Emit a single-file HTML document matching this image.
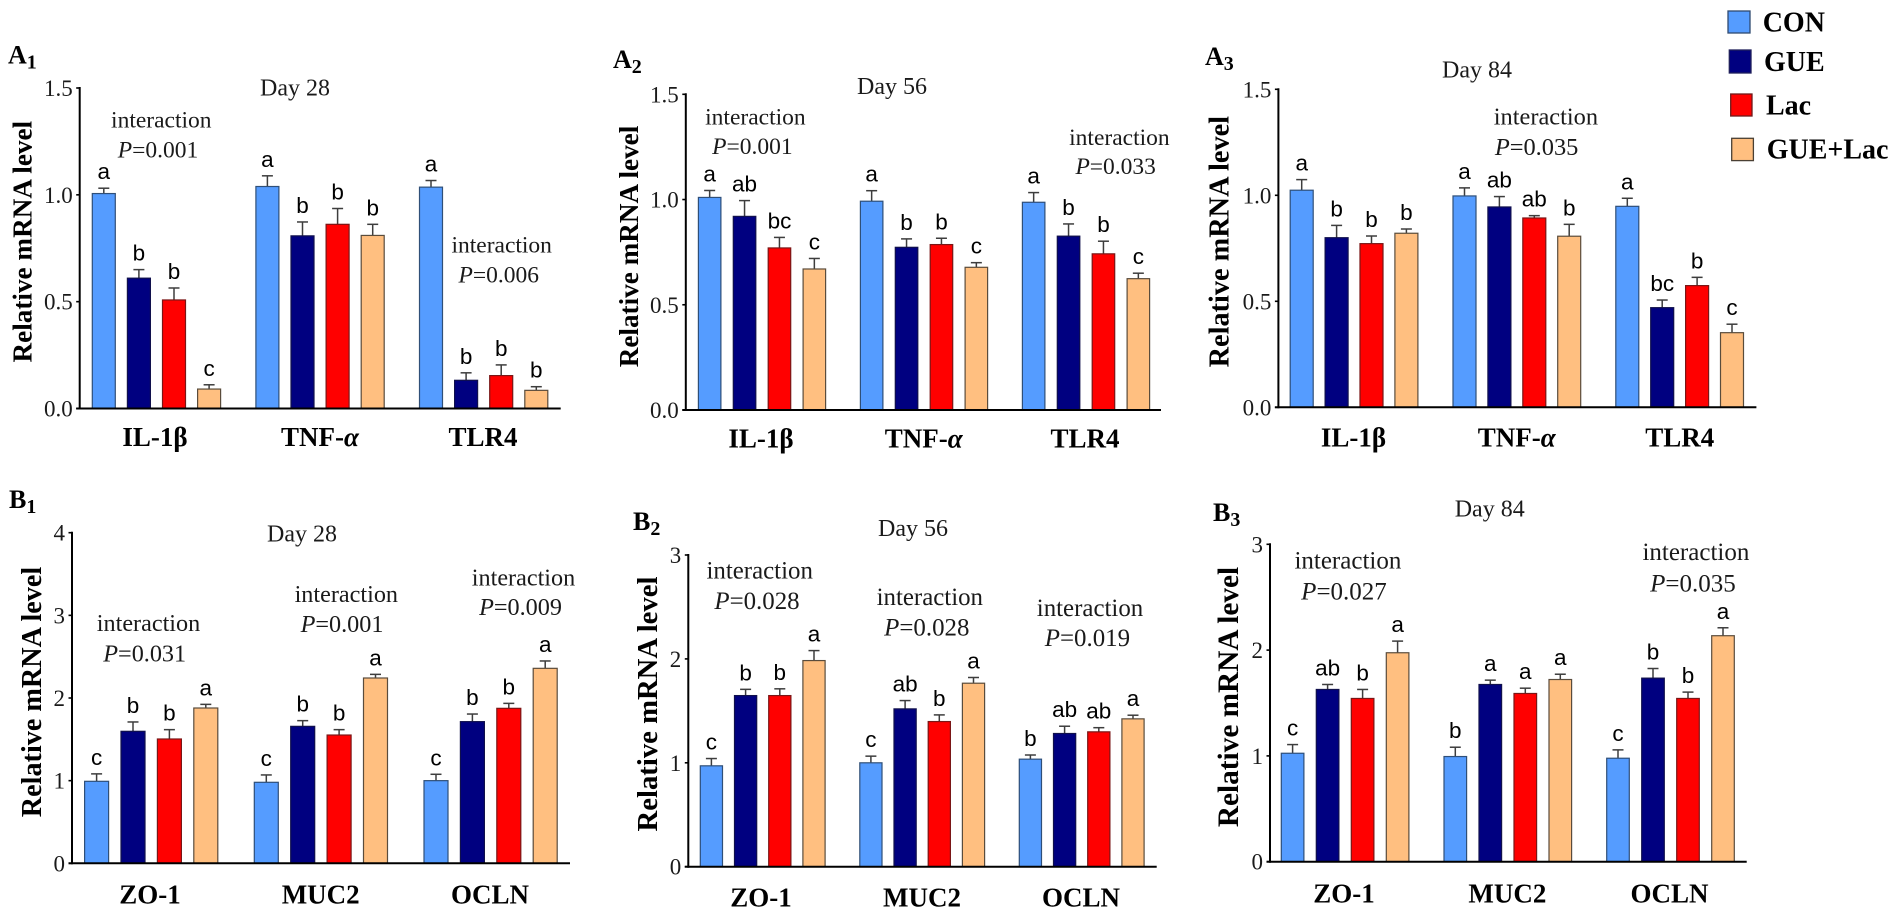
<!DOCTYPE html>
<html lang="en">
<head>
<meta charset="utf-8">
<title>Relative mRNA level by treatment and day</title>
<style>
html,body{margin:0;padding:0;background:#fff;}
svg{display:block;}
.serif{font-family:"Liberation Serif",serif;fill:#111;}
.note{font-family:"Liberation Serif",serif;fill:#1a1a1a;text-anchor:middle;}
.day{font-family:"Liberation Serif",serif;fill:#1a1a1a;text-anchor:middle;font-size:24px;}
.ytitle{font-family:"Liberation Serif",serif;font-weight:bold;fill:#000;text-anchor:middle;}
.plabel{font-family:"Liberation Serif",serif;font-weight:bold;fill:#000;font-size:26px;}
.plabel .sub{font-size:20px;}
.leg{font-family:"Liberation Serif",serif;font-weight:bold;fill:#000;font-size:28px;}
</style>
</head>
<body>
<svg id="figure" width="1901" height="914" viewBox="0 0 1901 914" xmlns="http://www.w3.org/2000/svg">
<rect width="1901" height="914" fill="#fff"/>

<g>
  <rect x="1728" y="11" width="22" height="22" fill="#559cff" stroke="#2f4a70" stroke-width="1.3"/>
  <text class="leg" x="1762.7" y="31.7">CON</text>
  <rect x="1729.3" y="50" width="21.7" height="23" fill="#000080" stroke="#20205a" stroke-width="1.3"/>
  <text class="leg" x="1764" y="71">GUE</text>
  <rect x="1730.7" y="94" width="21.3" height="22" fill="#ff0000" stroke="#6e1a1a" stroke-width="1.3"/>
  <text class="leg" x="1766" y="114.3">Lac</text>
  <rect x="1731.7" y="138.3" width="21.7" height="22.3" fill="#ffbf80" stroke="#4a4034" stroke-width="1.3"/>
  <text class="leg" x="1766.7" y="158.3">GUE+Lac</text>
</g>

<g id="panel-a1">
  <text class="plabel" x="8" y="63.3">A<tspan class="sub" dy="5">1</tspan></text>
  <text class="day" x="295" y="95.7">Day 28</text>
  <text class="ytitle" font-size="27.2" transform="translate(31.7 241.7) rotate(-90)">Relative mRNA level</text>
  <g font-size="23.5">
    <text class="note" x="161.3" y="127.7">interaction</text>
    <text class="note" x="158" y="157.3"><tspan font-style="italic">P</tspan>=0.001</text>
  </g>
  <g font-size="23.5">
    <text class="note" x="501.7" y="252.7">interaction</text>
    <text class="note" x="498.8" y="282.3"><tspan font-style="italic">P</tspan>=0.006</text>
  </g>
</g>

<g id="panel-a2">
  <text class="plabel" x="613" y="68">A<tspan class="sub" dy="5">2</tspan></text>
  <text class="day" x="892" y="94">Day 56</text>
  <text class="ytitle" font-size="27.2" transform="translate(638 246.5) rotate(-90)">Relative mRNA level</text>
  <g font-size="23.5">
    <text class="note" x="755.4" y="124.3">interaction</text>
    <text class="note" x="752.4" y="154"><tspan font-style="italic">P</tspan>=0.001</text>
  </g>
  <g font-size="23.5">
    <text class="note" x="1119.4" y="145">interaction</text>
    <text class="note" x="1115.7" y="174"><tspan font-style="italic">P</tspan>=0.033</text>
  </g>
</g>

<g id="panel-a3">
  <text class="plabel" x="1205" y="65">A<tspan class="sub" dy="5">3</tspan></text>
  <text class="day" x="1477" y="77.3">Day 84</text>
  <text class="ytitle" font-size="28.3" transform="translate(1228.5 241.7) rotate(-90)">Relative mRNA level</text>
  <g font-size="24.4">
    <text class="note" x="1545.9" y="124.3">interaction</text>
    <text class="note" x="1536.6" y="155"><tspan font-style="italic">P</tspan>=0.035</text>
  </g>
</g>

<g id="panel-b1">
  <text class="plabel" x="9" y="508">B<tspan class="sub" dy="5">1</tspan></text>
  <text class="day" x="302" y="541.5">Day 28</text>
  <text class="ytitle" font-size="28.2" transform="translate(41 692) rotate(-90)">Relative mRNA level</text>
  <g font-size="24.2">
    <text class="note" x="148.5" y="631">interaction</text>
    <text class="note" x="144.7" y="661.3"><tspan font-style="italic">P</tspan>=0.031</text>
  </g>
  <g font-size="24.2">
    <text class="note" x="346.3" y="602">interaction</text>
    <text class="note" x="342" y="632"><tspan font-style="italic">P</tspan>=0.001</text>
  </g>
  <g font-size="24.2">
    <text class="note" x="523.5" y="585.3">interaction</text>
    <text class="note" x="520.5" y="615"><tspan font-style="italic">P</tspan>=0.009</text>
  </g>
</g>

<g id="panel-b2">
  <text class="plabel" x="633" y="530">B<tspan class="sub" dy="5">2</tspan></text>
  <text class="day" x="913" y="536">Day 56</text>
  <text class="ytitle" font-size="28.7" transform="translate(657 704) rotate(-90)">Relative mRNA level</text>
  <g font-size="24.9">
    <text class="note" x="759.7" y="578.3">interaction</text>
    <text class="note" x="757" y="609"><tspan font-style="italic">P</tspan>=0.028</text>
  </g>
  <g font-size="24.9">
    <text class="note" x="929.8" y="605">interaction</text>
    <text class="note" x="926.8" y="635.3"><tspan font-style="italic">P</tspan>=0.028</text>
  </g>
  <g font-size="24.9">
    <text class="note" x="1090" y="616">interaction</text>
    <text class="note" x="1087.4" y="646"><tspan font-style="italic">P</tspan>=0.019</text>
  </g>
</g>

<g id="panel-b3">
  <text class="plabel" x="1213" y="521">B<tspan class="sub" dy="5">3</tspan></text>
  <text class="day" x="1489.7" y="516.7">Day 84</text>
  <text class="ytitle" font-size="29.3" transform="translate(1238 697) rotate(-90)">Relative mRNA level</text>
  <g font-size="25">
    <text class="note" x="1347.9" y="568.3">interaction</text>
    <text class="note" x="1344" y="599.3"><tspan font-style="italic">P</tspan>=0.027</text>
  </g>
  <g font-size="25">
    <text class="note" x="1695.9" y="560">interaction</text>
    <text class="note" x="1692.9" y="591.7"><tspan font-style="italic">P</tspan>=0.035</text>
  </g>
</g>
</svg>

<script>
// ---------- data ----------
const seriesNames = ['CON', 'GUE', 'Lac', 'GUE+Lac'];
const inflammationGenes = ['IL-1β', 'TNF-α', 'TLR4'];
const barrierGenes = ['ZO-1', 'MUC2', 'OCLN'];
const inflammationTicks = ['0.0', '0.5', '1.0', '1.5'];
const b1Ticks = ['0', '1', '2', '3', '4'];
const b2Ticks = ['0', '1', '2', '3'];
const b3Ticks = ['0', '1', '2', '3'];

const a1Means = [[1.006, 0.61, 0.508, 0.091], [1.039, 0.808, 0.862, 0.81], [1.036, 0.132, 0.154, 0.085]];
const a1Errors = [[0.025, 0.04, 0.056, 0.02], [0.05, 0.065, 0.074, 0.052], [0.031, 0.035, 0.05, 0.017]];
const a1Letters = [['a', 'b', 'b', 'c'], ['a', 'b', 'b', 'b'], ['a', 'b', 'b', 'b']];

const a2Means = [[1.01, 0.92, 0.77, 0.67], [0.992, 0.773, 0.786, 0.678], [0.987, 0.826, 0.742, 0.624]];
const a2Errors = [[0.033, 0.075, 0.05, 0.05], [0.05, 0.04, 0.03, 0.022], [0.046, 0.058, 0.06, 0.026]];
const a2Letters = [['a', 'ab', 'bc', 'c'], ['a', 'b', 'b', 'c'], ['a', 'b', 'b', 'c']];

const a3Means = [[1.024, 0.8, 0.772, 0.821], [0.997, 0.945, 0.893, 0.807], [0.948, 0.47, 0.574, 0.352]];
const a3Errors = [[0.05, 0.058, 0.036, 0.02], [0.038, 0.049, 0.011, 0.056], [0.038, 0.036, 0.039, 0.04]];
const a3Letters = [['a', 'b', 'b', 'b'], ['a', 'ab', 'ab', 'b'], ['a', 'bc', 'b', 'c']];

const b1Means = [[0.992, 1.597, 1.504, 1.879], [0.98, 1.657, 1.552, 2.242], [1.0, 1.714, 1.875, 2.359]];
const b1Errors = [[0.09, 0.113, 0.113, 0.044], [0.089, 0.069, 0.065, 0.044], [0.077, 0.092, 0.06, 0.089]];
const b1Letters = [['c', 'b', 'b', 'a'], ['c', 'b', 'b', 'a'], ['c', 'b', 'b', 'a']];

const b2Means = [[0.971, 1.647, 1.647, 1.984], [1.0, 1.519, 1.397, 1.766], [1.035, 1.282, 1.298, 1.423]];
const b2Errors = [[0.07, 0.06, 0.065, 0.096], [0.064, 0.08, 0.064, 0.055], [0.04, 0.07, 0.04, 0.035]];
const b2Letters = [['c', 'b', 'b', 'a'], ['c', 'ab', 'b', 'a'], ['b', 'ab', 'ab', 'a']];

const b3Means = [[1.025, 1.628, 1.543, 1.975], [0.994, 1.675, 1.59, 1.722], [0.978, 1.735, 1.543, 2.136]];
const b3Errors = [[0.082, 0.047, 0.085, 0.11], [0.088, 0.041, 0.05, 0.05], [0.079, 0.091, 0.06, 0.075]];
const b3Letters = [['c', 'ab', 'b', 'a'], ['b', 'a', 'a', 'a'], ['c', 'b', 'b', 'a']];

// ---------- drawing ----------
const NS = 'http://www.w3.org/2000/svg';
const fills = ['#559cff', '#000080', '#ff0000', '#ffbf80'];
const strokes = ['#2f4f78', '#10104c', '#7a1616', '#5a4c3c'];

function make(parent, tag, attrs) {
  const el = document.createElementNS(NS, tag);
  for (const k in attrs) el.setAttribute(k, attrs[k]);
  parent.appendChild(el);
  return el;
}

function drawPanel(cfg) {
  const root = document.getElementById(cfg.id);
  const maxTick = parseFloat(cfg.ticks[cfg.ticks.length - 1]);
  const yScale = function (v) { return cfg.yZero - (v / maxTick) * (cfg.yZero - cfg.yTop); };
  const barLeft = function (g, s) { return cfg.firstBar + g * cfg.groupStep + s * cfg.barStep; };

  cfg.means.forEach(function (group, g) {
    group.forEach(function (value, s) {
      const left = barLeft(g, s);
      const mid = left + cfg.barW / 2;
      const top = yScale(value);
      const errTop = yScale(value + cfg.errors[g][s]);

      const stem = make(root, 'line', { x1: mid, x2: mid, y1: top, y2: errTop, stroke: '#3d3d3d', 'stroke-width': 1.5 });
      
      

      const cap = make(root, 'line', { x1: mid - 5.5, x2: mid + 5.5, y1: errTop, y2: errTop, stroke: '#3d3d3d', 'stroke-width': 1.5 });
      
      

      const bar = make(root, 'rect', { x: left, y: top, width: cfg.barW, height: cfg.yZero - top, fill: fills[s], stroke: strokes[s], 'stroke-width': 1.2 });
      
      

      const letter = make(root, 'text', { x: mid, y: errTop - 9, 'text-anchor': 'middle', 'font-family': '"Liberation Sans",sans-serif', 'font-size': 22.5, fill: '#000' });
      letter.textContent = cfg.letters[g][s];
      
      
    });

    const gene = cfg.genes[g];
    const label = make(root, 'text', { x: cfg.labelX[g], y: cfg.labelY, 'text-anchor': 'middle', 'font-family': '"Liberation Serif",serif', 'font-weight': 'bold', 'font-size': 27, fill: '#000' });
    if (gene.indexOf('α') >= 0) {
      label.textContent = gene.replace('α', '');
      const alpha = make(label, 'tspan', { 'font-style': 'italic' });
      alpha.textContent = 'α';
    } else {
      label.textContent = gene;
    }
    
    
  });

  const yAxis = make(root, 'line', { x1: cfg.axisX, x2: cfg.axisX, y1: cfg.yTop - 1, y2: cfg.yZero + 1, stroke: '#000', 'stroke-width': 2 });
  
  

  const xAxis = make(root, 'line', { x1: cfg.axisX - 3.5, x2: cfg.axisRight, y1: cfg.yZero, y2: cfg.yZero, stroke: '#000', 'stroke-width': 2 });
  
  

  cfg.ticks.forEach(function (t) {
    const y = yScale(parseFloat(t));
    const tick = make(root, 'line', { x1: cfg.axisX - 3.5, x2: cfg.axisX, y1: y, y2: y, stroke: '#000', 'stroke-width': 1.6 });
    
    

    const tl = make(root, 'text', { x: cfg.axisX - 7, y: y + 8, 'text-anchor': 'end', 'font-family': '"Liberation Serif",serif', 'font-size': 23, fill: '#1a1a1a' });
    tl.textContent = t;
    
    
  });
}

drawPanel({ id: 'panel-a1', means: a1Means, errors: a1Errors, letters: a1Letters, genes: inflammationGenes, ticks: inflammationTicks,
  axisX: 79.7, axisRight: 560.7, yZero: 408.5, yTop: 88, firstBar: 92.3, barW: 23, barStep: 35.1, groupStep: 163.6, labelX: [155, 320, 483], labelY: 446 });
drawPanel({ id: 'panel-a2', means: a2Means, errors: a2Errors, letters: a2Letters, genes: inflammationGenes, ticks: inflammationTicks,
  axisX: 685.8, axisRight: 1161, yZero: 410, yTop: 94.3, firstBar: 698.4, barW: 22.5, barStep: 34.9, groupStep: 162, labelX: [761, 923.7, 1085], labelY: 447.7 });
drawPanel({ id: 'panel-a3', means: a3Means, errors: a3Errors, letters: a3Letters, genes: inflammationGenes, ticks: inflammationTicks,
  axisX: 1278.4, axisRight: 1756.4, yZero: 407.3, yTop: 89.3, firstBar: 1290.2, barW: 23, barStep: 34.9, groupStep: 162.8, labelX: [1353.5, 1516.7, 1679.8], labelY: 446.7 });
drawPanel({ id: 'panel-b1', means: b1Means, errors: b1Errors, letters: b1Letters, genes: barrierGenes, ticks: b1Ticks,
  axisX: 72, axisRight: 570, yZero: 863.3, yTop: 532.7, firstBar: 84.6, barW: 24, barStep: 36.4, groupStep: 169.7, labelX: [150, 320.7, 490], labelY: 903.3 });
drawPanel({ id: 'panel-b2', means: b2Means, errors: b2Errors, letters: b2Letters, genes: barrierGenes, ticks: b2Ticks,
  axisX: 688.3, axisRight: 1156.7, yZero: 866.7, yTop: 555, firstBar: 700.3, barW: 22.2, barStep: 34.2, groupStep: 159.5, labelX: [761, 922, 1081], labelY: 906.7 });
drawPanel({ id: 'panel-b3', means: b3Means, errors: b3Errors, letters: b3Letters, genes: barrierGenes, ticks: b3Ticks,
  axisX: 1270, axisRight: 1746.7, yZero: 861.7, yTop: 544.3, firstBar: 1281.3, barW: 22.6, barStep: 35, groupStep: 162.7, labelX: [1344, 1507.4, 1669.5], labelY: 902.7 });
</script>
</body>
</html>
